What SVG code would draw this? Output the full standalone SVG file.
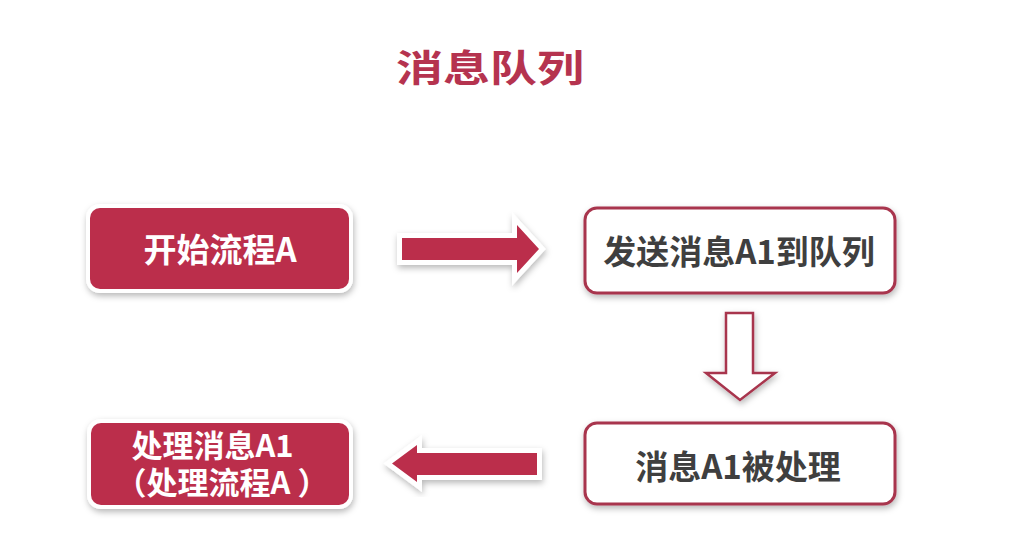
<svg xmlns="http://www.w3.org/2000/svg" width="1016" height="558" viewBox="0 0 1016 558">
  <defs>
    <filter id="shadow" x="-20%" y="-30%" width="140%" height="170%">
      <feDropShadow dx="1" dy="3" stdDeviation="3" flood-color="#000" flood-opacity="0.28"/>
    </filter>
    <style>
      text { font-family: "Noto Sans CJK SC", "Noto Sans", sans-serif; font-weight: 700; }
      .title { fill: #b5334f; font-size: 37px; }
      .solid { fill: #bb2f4c; stroke: #ffffff; stroke-width: 8; paint-order: stroke; filter: url(#shadow); }
      .outline { fill: #ffffff; stroke: #a8354d; stroke-width: 3; filter: url(#shadow); }
      .light { fill: #ffffff; font-size: 33px; }
      .light-sm { fill: #ffffff; font-size: 31px; }
      .dark { fill: #3f3f3f; font-size: 33px; }
      .arrow-solid { fill: #bb2f4c; stroke: #ffffff; stroke-width: 10; stroke-linejoin: miter; paint-order: stroke; filter: url(#shadow); }
      .arrow-hollow { fill: #ffffff; stroke: #a8354d; stroke-width: 2.5; stroke-linejoin: miter; filter: url(#shadow); }
    </style>
  </defs>

  <rect width="1016" height="558" fill="#ffffff"/>

  <!-- heading -->
  <text class="title" text-anchor="middle" dominant-baseline="central" transform="translate(490 66) scale(1.27 1)">消息队列</text>

  <g id="start-flow-a">
    <rect class="solid" x="90" y="208" width="259" height="81" rx="10"/>
    <text class="light" x="220" y="248" text-anchor="middle" dominant-baseline="central">开始流程A</text>
  </g>

  <g id="send-message">
    <rect class="outline" x="585" y="208" width="310" height="85" rx="12"/>
    <text class="dark" x="739" y="250" text-anchor="middle" dominant-baseline="central">发送消息A1到队列</text>
  </g>

  <g id="message-handled">
    <rect class="outline" x="585" y="423" width="310" height="81" rx="12"/>
    <text class="dark" x="738" y="465" text-anchor="middle" dominant-baseline="central">消息A1被处理</text>
  </g>

  <g id="handle-message">
    <rect class="solid" x="91" y="423" width="258" height="82" rx="10"/>
    <!-- two-line label -->
    <text class="light-sm" text-anchor="middle" dominant-baseline="central">
      <tspan x="216" y="443">处理消息A1</tspan>
      <tspan x="222" y="480">（处理流程A ）</tspan>
    </text>
  </g>

  <g id="connectors">
    <polygon class="arrow-solid" points="402,238 517,238 517,225 539,249 517,273 517,260 402,260"/>
    <polygon class="arrow-hollow" points="726,313 753,313 753,373 775,373 740,400 706,373 726,373"/>
    <polygon class="arrow-solid" points="537,453 417,453 417,445 392,463.5 417,482 417,475 537,475"/>
  </g>
</svg>
